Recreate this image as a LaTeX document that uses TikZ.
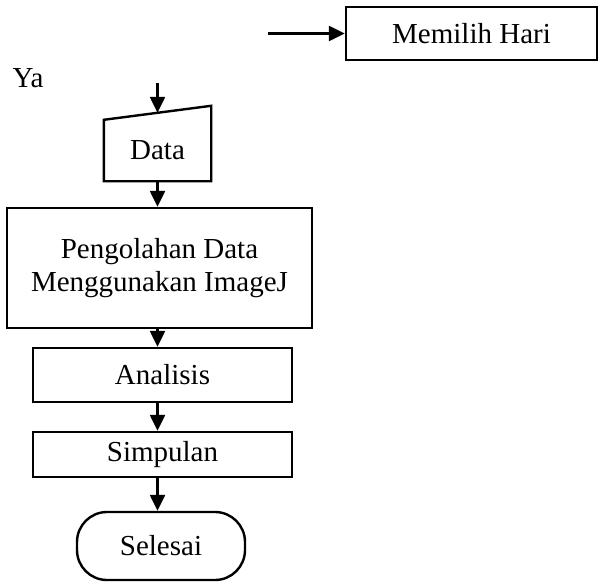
\documentclass[tikz,border=0pt]{standalone}
\usepackage{fontspec}
\setmainfont{Liberation Serif}
\usetikzlibrary{arrows.meta, positioning}

\begin{document}
\begin{tikzpicture} [x=1pt, y=-1pt, line width=2.4pt,
    font=\fontsize{29}{33}\selectfont,
    box/.style={draw, rectangle, inner sep=0pt, align=center},
    flow/.style={-{Triangle[length=16pt, width=15pt]}}]
    \useasboundingbox (0,0) rectangle (602,586);

    \node (hari) [box, minimum width=251pt, minimum height=53pt] at (471.5,33.5) {Memilih Hari};
    \coordinate (masuk) at (268,33.5);
    \node (ya) at (28,78) {Ya};
    \coordinate (awal) at (157.5,83);
    \node (data) [inner sep=0pt, minimum width=105pt, minimum height=59pt] at (157.5,150.5) {Data};
    \node (olah) [box, minimum width=305pt, minimum height=120pt] at (159.5,268) {Pengolahan Data\\Menggunakan ImageJ};
    \node (analisis) [box, minimum width=259pt, minimum height=54pt] at (162.5,375) {Analisis};
    \node (simpulan) [box, minimum width=259pt, minimum height=45pt] at (162.5,454.5) {Simpulan};
    \node (selesai) [box, rounded corners=30pt, minimum width=168pt, minimum height=68pt] at (161,546) {Selesai};

    \draw (data.south west) -- (data.south east) -- ([yshift=14pt]data.north east) -- (data.north west) -- cycle;

    \path [flow] (masuk) edge (hari.west);
    \path [flow] (awal) edge ([yshift=7pt]data.north);
    \path [flow] (data.south) edge (data.south |- olah.north);
    \path [flow] (olah.south -| data.south) edge (data.south |- analisis.north);
    \path [flow] (analisis.south -| data.south) edge (data.south |- simpulan.north);
    \path [flow] (simpulan.south -| data.south) edge (data.south |- selesai.north);
\end{tikzpicture}
\end{document}
